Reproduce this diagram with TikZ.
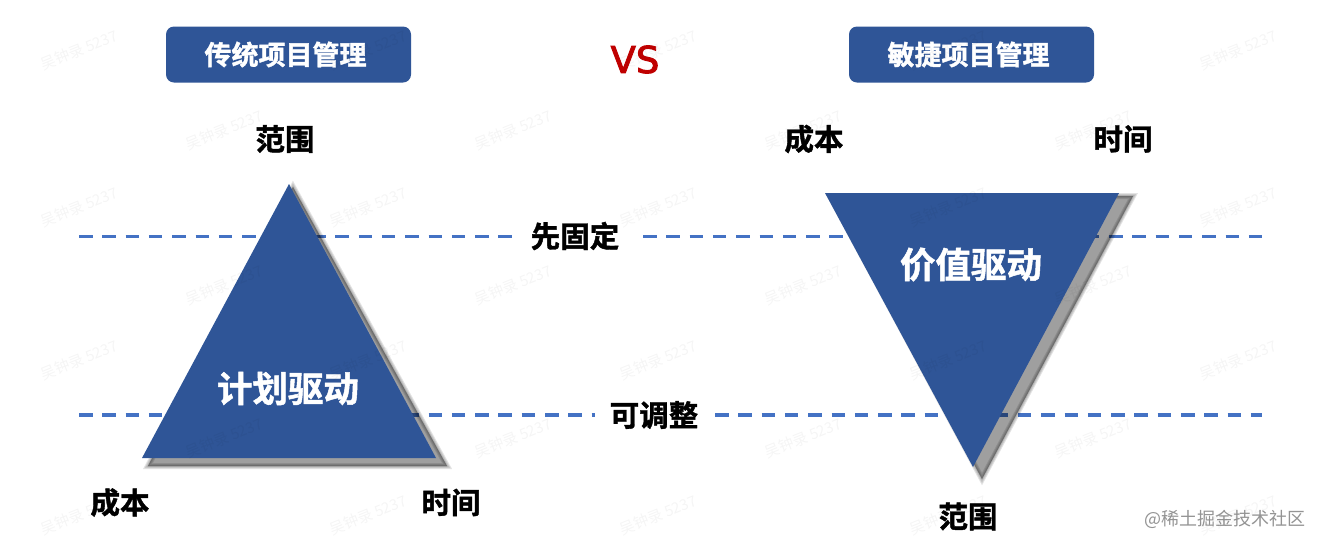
\documentclass[tikz,border=0pt]{standalone}
\usepackage{fontspec}
\setmainfont{Noto Sans CJK SC}
\newfontfamily\cjkbold[FakeBold=1.4]{Noto Sans CJK SC Bold}
\newfontfamily\vsfont[FakeBold=2.5]{DejaVu Sans}
\definecolor{mainblue}{HTML}{2F5597}
\definecolor{dashblue}{HTML}{4472C4}
\definecolor{vsred}{HTML}{C00000}
\tikzset{
  x=1pt,y=-1pt,
  headbox/.style={fill=mainblue,rounded corners=8pt,minimum width=245pt,minimum height=56pt,inner sep=0pt,text=white,font=\cjkbold\fontsize{27}{27}\selectfont},
  lbl/.style={text=black,inner sep=0pt,font=\cjkbold\fontsize{29.5}{29.5}\selectfont},
  tri/.style={fill=mainblue,draw=none},
  softshadow/.style={black,fill=black,opacity=.11,line join=miter},
  trilbl/.style={text=white,inner sep=0pt,font=\cjkbold\fontsize{35.5}{35.5}\selectfont},
  dashline/.style={dashblue,line width=3.6pt,dash pattern=on 13.5pt off 9.8pt},
  wm/.style={text=black,text opacity=.04,rotate=22,inner sep=0pt,font=\fontsize{15}{15}\selectfont},
  credit/.style={text=black!42,inner sep=0pt,font=\fontsize{18}{18}\selectfont}
}
\begin{document}
\begin{tikzpicture}
\useasboundingbox (0,0) rectangle (1322,547);
\fill[white] (0,0) rectangle (1322,547);
% dashed lines
\coordinate (l1a) at (79,236.5); \coordinate (l1b) at (516,236.5);
\coordinate (l1c) at (643,236.5); \coordinate (l1d) at (1262,236.5);
\coordinate (l2a) at (79,415); \coordinate (l2b) at (595,415);
\coordinate (l2c) at (715,415); \coordinate (l2d) at (1262,415);
\draw[dashline] (l1a) -- (l1b);
\draw[dashline] (l1c) -- (l1d);
\draw[dashline] (l2a) -- (l2b);
\draw[dashline] (l2c) -- (l2d);
\node[lbl] (fix) at (575,236) {先固定};
\node[lbl] (adj) at (654,415) {可调整};
% left triangle
\foreach \w in {6,4,2,0.1}{
  \path[softshadow,line width=\w pt,draw,fill] (293,187) -- (447,466) -- (148,466) -- cycle;
}
\fill[tri] (289,184) -- (436,458) -- (142,458) -- cycle;
\node[trilbl] (plan) at (288,388.5) {计划驱动};
% right triangle
\foreach \w in {6,4,2,0.1}{
  \path[softshadow,line width=\w pt,draw,fill] (830,196) -- (1133,196) -- (982,479) -- cycle;
}
\fill[tri] (825,193) -- (1119,193) -- (973,467) -- cycle;
\node[trilbl] (value) at (971,264.5) {价值驱动};
% headers
\node[headbox] (h1) at (288.5,54.5) {传统项目管理\hspace*{6pt}};
\node[headbox] (h2) at (971.5,54.5) {敏捷项目管理\hspace*{6pt}};
\node[text=vsred,inner sep=0pt,font=\vsfont\fontsize{37}{37}\selectfont] (vs) at (635,59.5) {VS};
% labels
\node[lbl] (l1) at (285,139) {范围};
\node[lbl] (l2) at (120,502.5) {成本};
\node[lbl] (l3) at (451,502.5) {时间};
\node[lbl] (l4) at (814,139) {成本};
\node[lbl] (l5) at (1123,139) {时间};
\node[lbl] (l6) at (968,516.5) {范围};
\node[credit] (cr) at (1225,519) {@稀土掘金技术社区};
% watermarks
\foreach \x in {79,368,658,948,1238}{\foreach \y in {50,207,360,515}{\node[wm] at (\x,\y) {吴钟录 5237};}}
\foreach \x in {224,513,803,1093}{\foreach \y in {130,285,438}{\node[wm] at (\x,\y) {吴钟录 5237};}}
\end{tikzpicture}
\end{document}
